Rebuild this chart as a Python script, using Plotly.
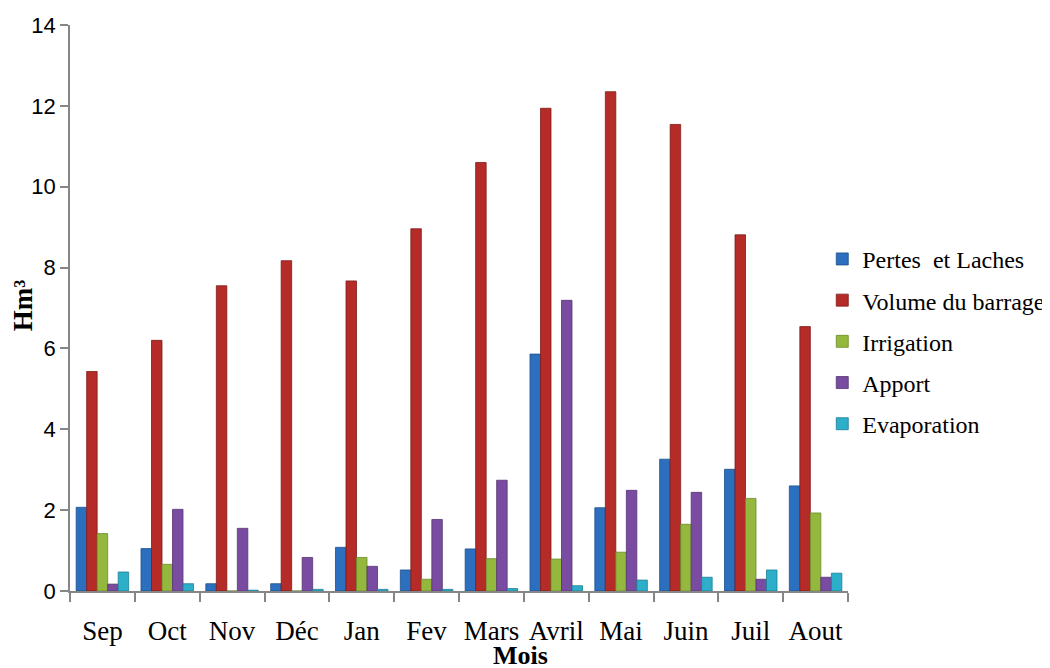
import plotly.graph_objects as go

months = ["Sep", "Oct", "Nov", "Déc", "Jan", "Fev", "Mars", "Avril", "Mai", "Juin", "Juil", "Aout"]
pertes = [2.07, 1.05, 0.18, 0.18, 1.08, 0.52, 1.04, 5.86, 2.06, 3.26, 3.01, 2.60]
volume = [5.43, 6.20, 7.55, 8.17, 7.67, 8.96, 10.60, 11.94, 12.35, 11.54, 8.81, 6.54]
irrigation = [1.42, 0.66, 0.0, 0.0, 0.83, 0.29, 0.80, 0.79, 0.96, 1.65, 2.29, 1.93]
apport = [0.17, 2.02, 1.55, 0.83, 0.61, 1.77, 2.74, 7.19, 2.49, 2.44, 0.29, 0.34]
evaporation = [0.47, 0.18, 0.02, 0.04, 0.04, 0.04, 0.06, 0.13, 0.27, 0.34, 0.52, 0.44]

series = [
    ("Pertes  et Laches", pertes, "#2C6FBF", "#1d4f8c"),
    ("Volume du barrage", volume, "#B52B27", "#7e1c19"),
    ("Irrigation", irrigation, "#93B83D", "#6b8a28"),
    ("Apport", apport, "#7A4CA1", "#553370"),
    ("Evaporation", evaporation, "#2DAEC9", "#1c7f95"),
]

fig = go.Figure()
for i, (name, vals, col, edge) in enumerate(series):
    fig.add_trace(go.Bar(
        x=months, y=vals, name=name, legendgroup=f"g{i}",
        marker=dict(color=col, line=dict(color=edge, width=0.8)),
    ))

fig.update_layout(
    width=1050, height=668,
    paper_bgcolor="white", plot_bgcolor="white",
    margin=dict(l=62, r=210, t=17, b=85, autoexpand=False),
    barmode="group", bargap=0.19, bargroupgap=0,
    font=dict(family="Liberation Serif", color="black"),
    legend=dict(
        xref="container", yref="container",
        x=0.7755, y=0.501, xanchor="left", yanchor="middle",
        font=dict(family="Liberation Serif", size=24, color="black"),
        tracegroupgap=7, bgcolor="rgba(0,0,0,0)",
    ),
    xaxis=dict(
        showline=True, linecolor="#868686", linewidth=1.5,
        ticks="outside", tickson="boundaries", ticklen=9, tickcolor="#868686", tickwidth=1.5,
        tickfont=dict(family="Liberation Serif", size=27, color="black"),
        tickangle=0, ticklabelstandoff=15,
        showgrid=False,
    ),
    yaxis=dict(
        range=[0, 14], dtick=2, showline=True, linecolor="#868686", linewidth=1.5,
        ticks="outside", ticklen=8, tickcolor="#868686", tickwidth=1.5,
        tickfont=dict(family="Liberation Sans", size=22, color="black"),
        showgrid=False, zeroline=False,
    ),
    annotations=[
        dict(text="<b>Mois</b>", xref="paper", yref="paper",
             x=(520 - 8 - 62) / 778, y=-(655 - 8 - 583) / 566, xanchor="center", yanchor="middle",
             showarrow=False, font=dict(family="Liberation Serif", size=26, color="black")),
        dict(text="<b>Hm³</b>", xref="paper", yref="paper", textangle=-90,
             x=-(62 - 15) / 778, y=0.505, xanchor="center", yanchor="middle",
             showarrow=False, font=dict(family="Liberation Serif", size=27, color="black")),
    ],
)

fig.write_html("out.html")
